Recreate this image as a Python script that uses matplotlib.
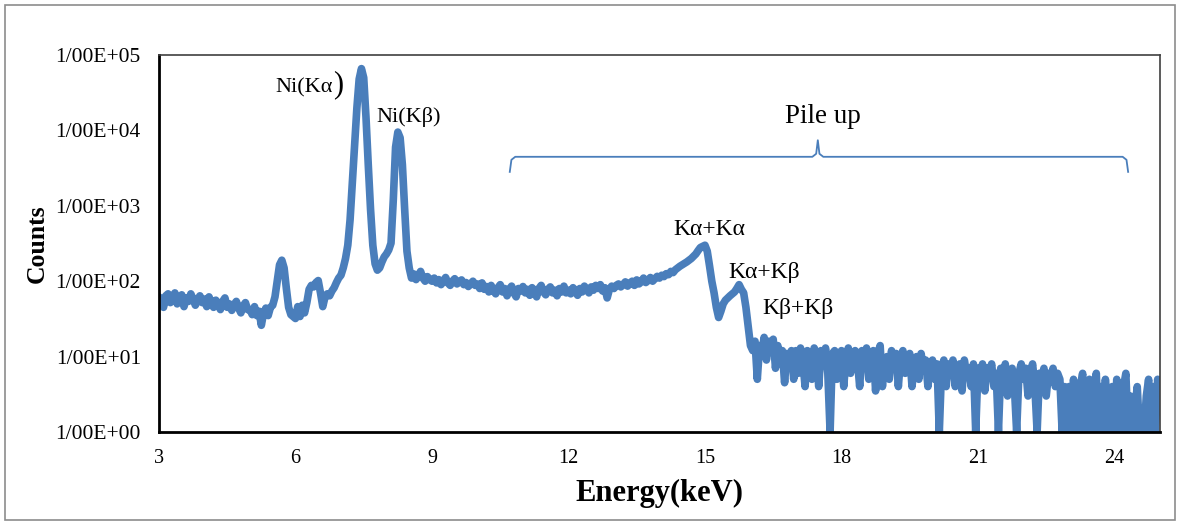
import numpy as np
import matplotlib
matplotlib.use("Agg")
import matplotlib.pyplot as plt
from matplotlib.patches import Rectangle

# counts per 0.05 keV channel, one row = 1 keV
low_counts = [  # 3.00 - 6.95 keV
    62, 58, 45, 64, 68, 52, 60, 70, 50, 58, 66, 46, 60, 54, 68, 58, 48, 57, 64, 52,
    58, 46, 62, 52, 45, 56, 50, 42, 54, 60, 45, 50, 41, 49, 54, 44, 38, 47, 52, 42,
    42, 36, 46, 35, 40, 26, 38, 44, 35, 45, 48, 62, 100, 165, 190, 150, 80, 45, 36, 34,
    32, 46, 34, 48, 38, 52, 78, 88, 84, 96, 102, 70, 46, 62, 68, 64, 74, 82, 96, 110,
]
peak_counts = [  # 7.00 - 8.95 keV
    120, 150, 200, 300, 650, 2000, 6000, 20000, 48000, 66000, 50000, 15000, 3500, 900, 300, 170, 140, 150, 180, 210,
    230, 260, 320, 1200, 6000, 9500, 8000, 3500, 900, 250, 150, 110, 125, 105, 120, 135, 110, 100, 115, 105,
]
plateau_counts = [  # 9.00 - 14.95 keV
    100, 110, 95, 105, 90, 100, 112, 95, 88, 100, 108, 92, 98, 104, 90, 96, 85, 92, 100, 88,
    92, 80, 95, 78, 85, 72, 88, 76, 68, 82, 90, 72, 80, 64, 78, 86, 70, 62, 80, 74,
    85, 70, 78, 65, 82, 75, 62, 80, 88, 72, 66, 78, 84, 70, 76, 64, 80, 72, 86, 70,
    76, 68, 82, 74, 65, 80, 72, 86, 78, 70, 84, 76, 88, 80, 90, 74, 82, 60, 78, 86,
    80, 88, 92, 84, 90, 98, 86, 94, 100, 88, 104, 92, 98, 110, 96, 102, 112, 100, 108, 116,
    110, 120, 115, 126, 122, 135, 130, 142, 150, 158, 165, 172, 180, 190, 200, 215, 230, 255, 280, 290,
]
pileup_counts = [  # 15.00 - 16.95 keV
    300, 250, 160, 100, 70, 45, 33, 40, 50, 56, 60, 64, 68, 72, 80, 90, 78, 70, 45, 25,
    14, 12, 16, 5, 14, 11, 18, 9, 16, 13, 17, 7, 14, 10, 12, 4.5, 11, 8, 12, 5,
]
tail_counts = [  # 17.00 - 25.00 keV
    12, 6, 13, 9, 4, 12, 10, 5, 13, 11, 4, 12, 9, 13, 6, 1, 11, 12, 5, 10,
    12, 4, 10, 13, 6, 11, 12, 9, 4, 12, 8, 13, 5, 10, 12, 3.5, 11, 14, 4, 9,
    10, 5, 12, 8, 11, 4, 10, 12, 6, 9, 11, 4, 8, 10, 5, 11, 7, 9, 4, 8,
    9, 5, 8, 1, 7, 9, 4, 8, 6, 9, 4, 7, 8, 3.5, 9, 6, 7, 4, 8, 1,
    7, 5, 8, 3.5, 7, 6, 8, 4, 6, 1, 7, 5, 8, 3, 6, 7, 4, 1, 6, 8,
    5, 7, 3, 6, 8, 4, 1, 6, 5, 7, 3, 6, 5, 7, 4, 6, 5, 1, 4, 1,
    4, 1, 5, 2, 1, 4, 6, 1, 3, 5, 1, 2, 6, 1, 4, 1, 5, 2, 1, 4,
    1, 5, 2, 1, 4, 6, 1, 3, 1, 2, 4, 1, 2, 1, 3, 5, 1, 4, 1, 5,
    2,
]

counts = np.array(low_counts + peak_counts + plateau_counts + pileup_counts + tail_counts, dtype=float)
energy = np.round(3 + 0.05 * np.arange(len(counts)), 2)

y_ticks = [1, 10, 100, 1000, 10000, 100000]
y_labels = ["1/00E+00", "1/00E+01", "1/00E+02", "1/00E+03", "1/00E+04", "1/00E+05"]
x_ticks = [3, 6, 9, 12, 15, 18, 21, 24]

plt.rcParams['font.family'] = ['Liberation Serif', 'DejaVu Serif']
blue = '#4a7ebb'

fig = plt.figure(figsize=(11.81, 5.24), dpi=100)
ax = fig.add_axes([0.1346, 0.1756, 0.8476, 0.7194])
fig.patches.append(Rectangle((0.004, 0.008), 0.991, 0.982, transform=fig.transFigure,
                             fill=False, edgecolor='#8c8c8c', linewidth=1.2))

ax.plot(energy, counts, color=blue, linewidth=5.5, solid_joinstyle='round', solid_capstyle='round')
ax.set_yscale('log')
ax.set_ylim(1, 100000)
ax.set_xlim(3, 25)
ax.yaxis.set_major_locator(matplotlib.ticker.FixedLocator(y_ticks))
ax.yaxis.set_minor_locator(matplotlib.ticker.NullLocator())
ax.set_yticks(y_ticks)
ax.set_yticklabels(y_labels)
ax.set_xticks(x_ticks)
ax.tick_params(axis='y', labelsize=15.5, length=0, pad=13)
ax.tick_params(axis='x', labelsize=14.5, length=0, pad=12)

for s in ['left', 'bottom']:
    ax.spines[s].set_linewidth(2)
    ax.spines[s].set_color('black')
for s in ['top', 'right']:
    ax.spines[s].set_linewidth(1.2)
    ax.spines[s].set_color('#404040')

ax.set_xlabel('Energy(keV)', fontsize=22, fontweight='bold', labelpad=8)
ax.set_ylabel('Counts', fontsize=18.5, fontweight='bold', labelpad=5)

# peak labels
ax.text(5.55, 10**4.56, 'Ni(K\u03b1', fontsize=16, ha='left', va='center')
ax.text(6.82, 10**4.6, ')', fontsize=22, ha='left', va='center')
ax.text(8.49, 10**4.18, 'Ni(K\u03b2)', fontsize=16, ha='center', va='center')
ax.text(17.6, 10**4.18, 'Pile up', fontsize=19.5, ha='center', va='center')
ax.text(15.1, 10**2.69, 'K\u03b1+K\u03b1', fontsize=17, ha='center', va='center')
ax.text(16.3, 10**2.12, 'K\u03b1+K\u03b2', fontsize=17, ha='center', va='center')
ax.text(17.05, 10**1.64, 'K\u03b2+K\u03b2', fontsize=17, ha='center', va='center')

# curly brace over the pile-up region
b_left, b_mid, b_right = 10.71, 17.48, 24.3
b_y, b_end, b_tip = 3.65, 3.45, 3.87
r = 0.12
bx = [b_left, b_left + r * 0.3, b_left + r, b_mid - r, b_mid - r * 0.3, b_mid,
      b_mid + r * 0.3, b_mid + r, b_right - r, b_right - r * 0.3, b_right]
by = [b_end, b_y - 0.04, b_y, b_y, b_y + 0.04, b_tip,
      b_y + 0.04, b_y, b_y, b_y - 0.04, b_end]
ax.plot(bx, 10 ** np.array(by), color=blue, linewidth=1.3)

fig.savefig('out.png', dpi=100)
